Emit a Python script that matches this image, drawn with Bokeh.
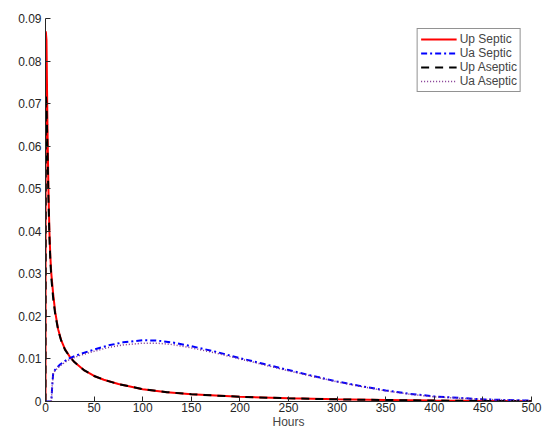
from bokeh.plotting import figure
from bokeh.models import Legend, LegendItem, FixedTicker
from bokeh.embed import file_html
from bokeh.resources import INLINE

t_up = [0, 0.3, 1, 2, 3, 4, 5, 6, 8, 10, 13, 16, 20, 25, 30, 40, 50, 60, 75, 100, 125, 150, 200, 250, 300, 350, 400, 450, 500]
up_septic = [0, 0.087, 0.085, 0.065, 0.05, 0.04, 0.034, 0.03, 0.025, 0.021, 0.017, 0.0145, 0.0123, 0.0105, 0.0092, 0.0073, 0.006, 0.0051, 0.0041, 0.0029, 0.0022, 0.0017, 0.0011, 0.00075, 0.0005, 0.00035, 0.00022, 0.00013, 0.00007]
up_aseptic = [0, 0.072, 0.070, 0.060, 0.048, 0.039, 0.033, 0.029, 0.024, 0.0205, 0.0168, 0.0144, 0.0122, 0.0105, 0.0092, 0.0073, 0.006, 0.0051, 0.0041, 0.0029, 0.0022, 0.0017, 0.0011, 0.00075, 0.0005, 0.00035, 0.00022, 0.00013, 0.00007]
t_ua = [0, 6, 7, 8, 10, 15, 20, 25, 35, 50, 65, 80, 100, 115, 130, 150, 175, 200, 225, 250, 275, 300, 325, 350, 375, 400, 450, 500]
ua_septic = [0, 0, 0.004, 0.0068, 0.0075, 0.0087, 0.0095, 0.0102, 0.0111, 0.0122, 0.0132, 0.0139, 0.0144, 0.0143, 0.0139, 0.013, 0.0117, 0.0102, 0.0088, 0.0074, 0.006, 0.0047, 0.0036, 0.0026, 0.0018, 0.0012, 0.0005, 0.0002]
ua_aseptic = [0, 0, 0.004, 0.0066, 0.0073, 0.0084, 0.0092, 0.0099, 0.0108, 0.0118, 0.0127, 0.0133, 0.0137, 0.0137, 0.0134, 0.0126, 0.0114, 0.0100, 0.0086, 0.0072, 0.0059, 0.0046, 0.0035, 0.0025, 0.0017, 0.0011, 0.0005, 0.0002]

p = figure(width=545, height=431, output_backend="svg", toolbar_location=None,
           x_range=(0, 500), y_range=(0, 0.09), min_border_left=45, min_border_right=14,
           min_border_top=18, min_border_bottom=19)
p.outline_line_color = None
p.grid.grid_line_color = None
p.xaxis.ticker = FixedTicker(ticks=list(range(0, 501, 50)))
p.yaxis.ticker = FixedTicker(ticks=[i / 100 for i in range(10)])
p.yaxis.major_label_overrides = {0: "0"}
for ax in (p.xaxis[0], p.yaxis[0]):
    ax.major_tick_in = 5
    ax.major_tick_out = 0
    ax.minor_tick_line_color = None
    ax.axis_line_color = "#262626"
    ax.major_tick_line_color = "#262626"
    ax.major_label_text_font = "Liberation Sans"
    ax.major_label_text_font_size = "12px"
    ax.major_label_text_color = "#262626"
p.xaxis.axis_label = "Hours"
p.xaxis.axis_label_text_font = "Liberation Sans"
p.xaxis.axis_label_text_font_style = "normal"
p.xaxis.axis_label_text_font_size = "12px"
p.xaxis.axis_label_standoff = 0
p.yaxis.major_label_standoff = 4
p.xaxis.major_label_standoff = 1

r1 = p.line(t_up, up_septic, color="red", line_width=2)
r2 = p.line(t_ua, ua_septic, color="blue", line_width=2, line_dash="6 3 2 3")
r3 = p.line(t_up, up_aseptic, color="black", line_width=2, line_dash="8 6")
r4 = p.line(t_ua, ua_aseptic, color="#7E2F8E", line_width=1.5, line_dash="1 2")

leg = Legend(items=[LegendItem(label="Up Septic", renderers=[r1]),
                    LegendItem(label="Ua Septic", renderers=[r2]),
                    LegendItem(label="Up Aseptic", renderers=[r3]),
                    LegendItem(label="Ua Aseptic", renderers=[r4])],
             location="top_right", label_text_font="Liberation Sans", label_text_font_size="12px",
             label_height=14, glyph_height=14, glyph_width=36, spacing=0, padding=3,
             margin=10, border_line_color="#262626", label_standoff=3)
p.add_layout(leg)

open("out.html", "w").write(file_html(p, INLINE))
